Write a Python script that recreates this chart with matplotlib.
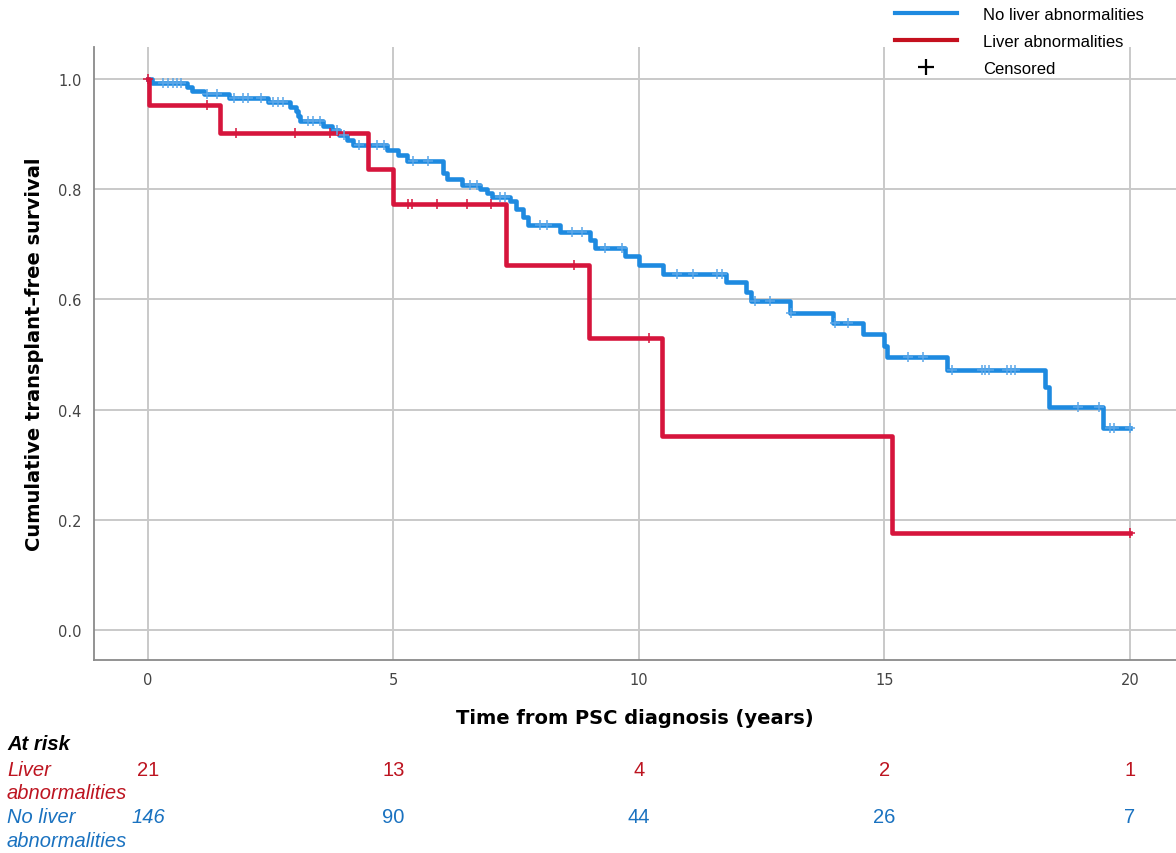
import numpy as np
import matplotlib
matplotlib.use('Agg')
import matplotlib.pyplot as plt
from matplotlib.lines import Line2D
from matplotlib.transforms import blended_transform_factory

''' Kaplan-Meier style plot: transplant-free survival by liver abnormalities '''

# step curves (time in years, survival after the step)
blue_t = [0, 0.08, 0.80, 0.90, 1.15, 1.65, 2.45, 2.90, 3.02, 3.05, 3.10, 3.57, 3.75, 3.90,
          4.05, 4.18, 4.87, 5.10, 5.27, 6.00, 6.09, 6.40, 6.76, 6.90, 7.00, 7.37, 7.50,
          7.64, 7.74, 8.39, 9.00, 9.10, 9.71, 10.00, 10.49, 11.77, 12.18, 12.28, 13.07,
          13.95, 14.56, 14.99, 15.06, 16.27, 18.27, 18.35, 19.45, 20.0]
blue_s = [1.0, 0.993, 0.986, 0.979, 0.972, 0.965, 0.958, 0.950, 0.942, 0.933, 0.924, 0.915,
          0.907, 0.899, 0.890, 0.881, 0.872, 0.862, 0.852, 0.830, 0.818, 0.808, 0.800,
          0.794, 0.786, 0.778, 0.764, 0.750, 0.736, 0.723, 0.707, 0.694, 0.679, 0.663,
          0.647, 0.632, 0.613, 0.597, 0.576, 0.557, 0.537, 0.516, 0.496, 0.472, 0.441,
          0.405, 0.366, 0.366]
blue_cens = [0.3, 0.4, 0.5, 0.6, 0.67, 1.2, 1.4, 1.75, 1.93, 2.04, 2.3, 2.55, 2.65, 2.75,
             3.26, 3.36, 3.5, 3.85, 4.0, 4.3, 4.66, 4.8, 5.4, 5.7, 6.56, 6.7, 7.17, 7.27,
             7.98, 8.13, 8.63, 8.84, 9.3, 9.65, 10.77, 11.1, 11.59, 11.69, 12.36, 12.67,
             13.1, 14.0, 14.26, 15.48, 15.78, 16.37, 16.99, 17.05, 17.13, 17.49, 17.58,
             17.66, 18.94, 19.37, 19.59, 19.67, 20.0]

red_t = [0, 0.02, 1.47, 4.48, 4.99, 7.29, 8.98, 10.47, 15.15, 20.0]
red_s = [1.0, 0.952, 0.902, 0.837, 0.773, 0.662, 0.530, 0.353, 0.176, 0.176]
red_cens = [0.0, 1.2, 1.8, 3.0, 3.7, 5.3, 5.38, 5.88, 6.5, 6.98, 8.68, 10.2, 20.0]

risk_times = [0, 5, 10, 15, 20]
risk_red = ['21', '13', '4', '2', '1']
risk_blue = ['146', '90', '44', '26', '7']

BLUE = '#1e8ae0'
RED = '#d6153c'
RISK_RED = '#bd1420'
RISK_BLUE = '#1a72c0'


def step_value(times, surv, t):
    '''survival value of a right-continuous step curve at time t'''
    idx = np.searchsorted(times, t, side='right') - 1
    return np.asarray(surv)[idx]


fig = plt.figure(figsize=(11.76, 8.54), dpi=100)
ax = fig.add_axes([94 / 1176, 193 / 854, 1 - 94 / 1176, 613 / 854])

ax.step(blue_t, blue_s, where='post', color=BLUE, linewidth=3.3, zorder=3)
ax.step(red_t, red_s, where='post', color=RED, linewidth=3.3, zorder=4)
ax.plot(blue_cens, step_value(blue_t, blue_s, blue_cens), linestyle='none', marker='+',
        markersize=7, markeredgewidth=1.1, color='#5aa6e8', zorder=5)
ax.plot(red_cens, step_value(red_t, red_s, red_cens), linestyle='none', marker='+',
        markersize=7, markeredgewidth=1.1, color=RED, zorder=6)

ax.set_xlim(-1.1, 20.94)
ax.set_ylim(-0.054, 1.058)
ax.set_xticks([0, 5, 10, 15, 20])
ax.set_yticks([0.0, 0.2, 0.4, 0.6, 0.8, 1.0])
ax.set_yticklabels(['0.0', '0.2', '0.4', '0.6', '0.8', '1.0'])
ax.tick_params(length=0, labelsize=10.5, labelcolor='#444444', pad=9)
ax.grid(True, color='#c9c9c9', linewidth=1.4)
ax.set_axisbelow(True)
for side in ['top', 'right']:
    ax.spines[side].set_visible(False)
for side in ['left', 'bottom']:
    ax.spines[side].set_color('#8a8a8a')
    ax.spines[side].set_linewidth(1.3)

ax.set_xlabel('Time from PSC diagnosis (years)', fontsize=14, fontweight='bold',
              labelpad=15)
ax.set_ylabel('Cumulative transplant\u2013free survival', fontsize=14, fontweight='bold',
              labelpad=10)

handles = [Line2D([], [], color=BLUE, linewidth=3),
           Line2D([], [], color='#c4101e', linewidth=3),
           Line2D([], [], color='black', linestyle='none', marker='+', markersize=11,
                  markeredgewidth=1.6)]
fig.legend(handles, ['No liver abnormalities', 'Liver abnormalities', 'Censored'],
           loc='upper left', bbox_to_anchor=(895 / 1176, 1 - 8 / 854), frameon=False,
           prop={'family': 'Liberation Sans', 'size': 12}, handlelength=3.7,
           handletextpad=1.6, labelspacing=0.72, borderpad=0, borderaxespad=0)

# at-risk table
fs = 14.5
fig.text(7 / 1176, 1 - 745 / 854, 'At risk', fontsize=fs, fontweight='bold',
         style='italic', family='Liberation Sans', va='center')
fig.text(7 / 1176, 1 - 771 / 854, 'Liver', fontsize=fs, style='italic',
         family='Liberation Sans', color=RISK_RED, va='center')
fig.text(7 / 1176, 1 - 794 / 854, 'abnormalities', fontsize=fs, style='italic',
         family='Liberation Sans', color=RISK_RED, va='center')
fig.text(7 / 1176, 1 - 818 / 854, 'No liver', fontsize=fs, style='italic',
         family='Liberation Sans', color=RISK_BLUE, va='center')
fig.text(7 / 1176, 1 - 842 / 854, 'abnormalities', fontsize=fs, style='italic',
         family='Liberation Sans', color=RISK_BLUE, va='center')

trans = blended_transform_factory(ax.transData, fig.transFigure)
for i, t in enumerate(risk_times):
    ax.text(t, 1 - 771 / 854, risk_red[i], transform=trans, fontsize=fs,
            family='Liberation Sans', color=RISK_RED, ha='center', va='center')
    ax.text(t, 1 - 818 / 854, risk_blue[i], transform=trans, fontsize=fs,
            family='Liberation Sans', color=RISK_BLUE, ha='center', va='center',
            style='italic' if i == 0 else 'normal')

fig.savefig('out.png', dpi=100)
